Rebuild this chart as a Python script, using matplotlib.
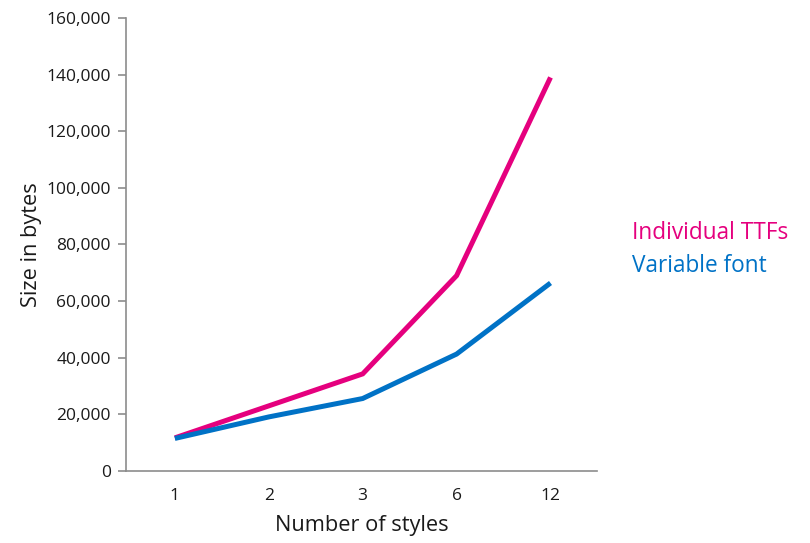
import matplotlib
matplotlib.use("Agg")
import matplotlib.pyplot as plt
from matplotlib.ticker import FuncFormatter

categories = ["1", "2", "3", "6", "12"]
individual_ttfs = [11700, 23000, 34300, 69000, 139000]
variable_font = [11500, 19100, 25600, 41300, 66400]

plt.rcParams['font.family'] = ['Open Sans', 'DejaVu Sans']

fig = plt.figure(figsize=(8.1, 5.43), dpi=100)
ax = fig.add_axes([0.1556, 0.1326, 0.582, 0.8343])

x = list(range(len(categories)))
pink = "#E5007E"
blue = "#0072C6"
ax.plot(x, individual_ttfs, color=pink, lw=3.6, solid_capstyle='butt', solid_joinstyle='miter')
ax.plot(x, variable_font, color=blue, lw=3.6, solid_capstyle='butt', solid_joinstyle='miter')

ax.set_xlim(-0.52, 4.5)
ax.set_ylim(0, 160000)
ax.set_yticks(range(0, 160001, 20000))
ax.yaxis.set_major_formatter(FuncFormatter(lambda v, p: f"{int(v):,}"))
ax.set_xticks(x)
ax.set_xticklabels(categories)

for s in ["top", "right"]:
    ax.spines[s].set_visible(False)
for s in ["left", "bottom"]:
    ax.spines[s].set_color("#8c8c8c")
    ax.spines[s].set_linewidth(1.2)
ax.tick_params(axis='y', direction='out', length=6, color="#8c8c8c", width=1.2, labelsize=12.5, labelcolor="#1a1a1a", pad=5)
ax.tick_params(axis='x', length=0, labelsize=12.5, labelcolor="#1a1a1a", pad=12)

ax.set_xlabel("Number of styles", fontsize=15.7, color="#1a1a1a", labelpad=8)
ax.set_ylabel("Size in bytes", fontsize=15.7, color="#1a1a1a", labelpad=3)

fig.text(632/810, 1 - 233/543, "Individual TTFs", color=pink, fontsize=16.3, va='center', ha='left')
fig.text(632/810, 1 - 266/543, "Variable font", color=blue, fontsize=16.3, va='center', ha='left')

fig.savefig("out.png", dpi=100)
